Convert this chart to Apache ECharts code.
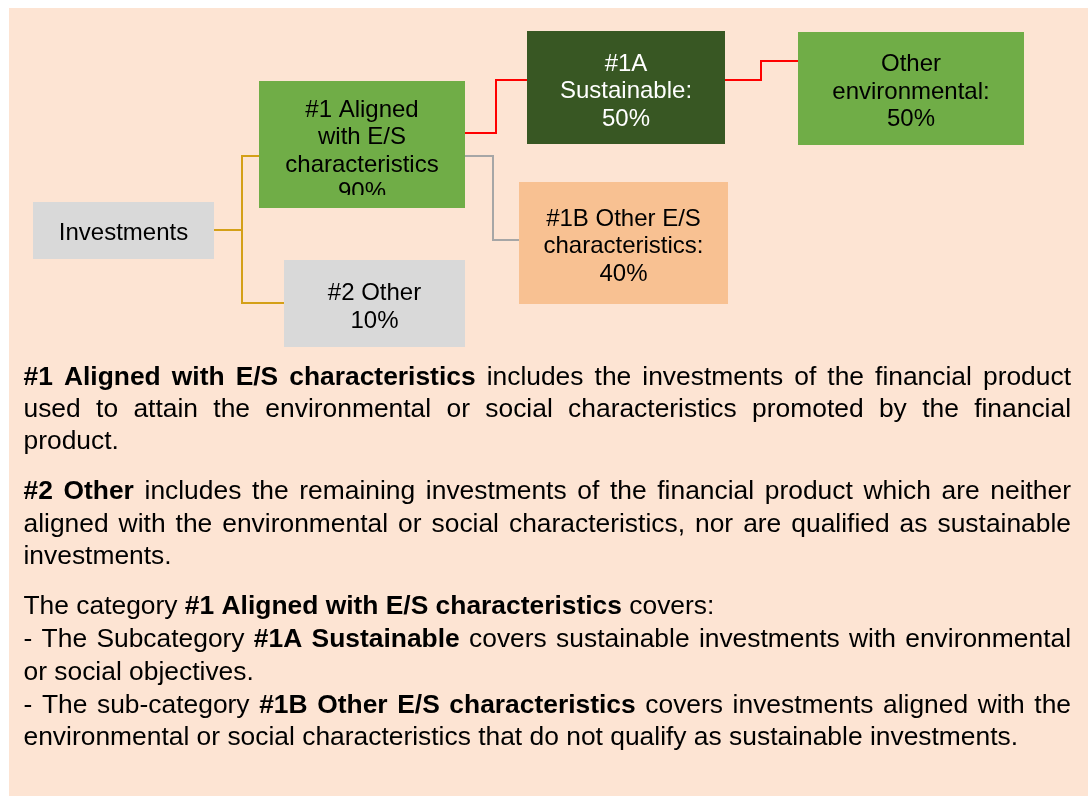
<!DOCTYPE html>
<html>
<head>
<meta charset="utf-8">
<script src="https://cdn.jsdelivr.net/npm/echarts@6/dist/echarts.min.js"></script>
<style>
  html, body { margin: 0; padding: 0; background: #fff; }
  #chart { width: 1091px; height: 798px; }
</style>
</head>
<body>
<div id="chart"></div>
<script>
// --- diagram data ---
const nodeNames = ['Investments', '#1 Aligned\nwith E/S\ncharacteristics', '#2 Other', '#1A\nSustainable:', '#1B Other E/S\ncharacteristics:', 'Other\nenvironmental:'];
const nodeShares = [null, 90, 10, 50, 40, 50];
const linkFrom = [0, 0, 1, 1, 3];
const linkTo = [1, 2, 3, 4, 5];

// --- explanatory text, one entry per printed line: [text, bold] ---
const textLines = [
  [['#1 Aligned with E/S characteristics', true], [' includes the investments of the financial product', false]],
  [['used to attain the environmental or social characteristics promoted by the financial', false]],
  [['product.', false]],
  [['#2 Other', true], [' includes the remaining investments of the financial product which are neither', false]],
  [['aligned with the environmental or social characteristics, nor are qualified as sustainable', false]],
  [['investments.', false]],
  [['The category ', false], ['#1 Aligned with E/S characteristics', true], [' covers:', false]],
  [['- The Subcategory ', false], ['#1A Sustainable', true], [' covers sustainable investments with environmental', false]],
  [['or social objectives.', false]],
  [['- The sub-category ', false], ['#1B Other E/S characteristics', true], [' covers investments aligned with the', false]],
  [['environmental or social characteristics that do not qualify as sustainable investments.', false]]
];
const lineJustified = [true, true, false, true, true, false, false, true, false, true, false];

// --- layout (diagram space = page pixels) ---
const boxRect = [[33, 202, 214, 259], [259, 81, 465, 208], [284, 260, 465, 347], [527, 31, 725, 144], [519, 182, 728, 304], [798, 32, 1024, 145]];
const boxColor = ['#d9d9d9', '#70ad47', '#d9d9d9', '#385723', '#f8c192', '#70ad47'];
const boxTextColor = ['#000', '#000', '#000', '#fff', '#000', '#000'];
const boxTextDy = [2.5, 7, 4, 4, 3.5, 3.5];
const boxClipBottom = [null, 195, null, null, null, null];
// link anchors: y on parent side, y on child side, x of the elbow
const linkY0 = [230, 230, 133, 156, 80];
const linkY1 = [156, 303, 80, 240, 61];
const linkElbow = [242, 242, 496, 493, 761];
const linkColor = ['#d4a017', '#d4a017', '#ff0000', '#a6a6a6', '#ff0000'];

const FONT = '"Liberation Sans", Arial, sans-serif';
const PARA_SIZE = 26.4;
const PARA_LEFT = 23.5, PARA_RIGHT = 1071;
const lineY = [378, 410, 442, 491.5, 524.5, 556.5, 606.5, 639.5, 672.5, 705.5, 738];

const chart = echarts.init(document.getElementById('chart'));

// words of the text block, placed one by one so the lines can be justified
const ctx = document.createElement('canvas').getContext('2d');
function fontOf(bold) { return (bold ? 'bold ' : '') + PARA_SIZE + 'px ' + FONT; }
function measure(t, bold) { ctx.font = fontOf(bold); return ctx.measureText(t).width; }

const textGraphics = [];
textLines.forEach(function (parts, li) {
  const words = [];
  parts.forEach(function (p) {
    p[0].split(' ').forEach(function (w) { if (w) words.push({ t: w, b: p[1] }); });
  });
  let total = 0;
  words.forEach(function (w) { w.w = measure(w.t, w.b); total += w.w; });
  const gap = lineJustified[li] && words.length > 1
    ? (PARA_RIGHT - PARA_LEFT - total) / (words.length - 1)
    : measure(' ', false);
  let x = PARA_LEFT;
  words.forEach(function (w) {
    textGraphics.push({
      type: 'text', x: x, y: lineY[li], silent: true, z: 10,
      style: { text: w.t, font: fontOf(w.b), fill: '#000', textVerticalAlign: 'middle', verticalAlign: 'middle' }
    });
    x += w.w + gap;
  });
});

const option = {
  animation: false,
  backgroundColor: '#fff',
  grid: { left: 0, right: 0, top: 0, bottom: 0 },
  xAxis: { type: 'value', min: 0, max: 1091, show: false },
  yAxis: { type: 'value', min: 0, max: 798, inverse: true, show: false },
  graphic: [
    { type: 'rect', z: -10, silent: true, shape: { x: 9, y: 8, width: 1079, height: 788 }, style: { fill: '#fde4d3' } }
  ].concat(textGraphics),
  series: [
    {
      type: 'lines',
      coordinateSystem: 'cartesian2d',
      polyline: true,
      silent: true,
      z: 2,
      lineStyle: { width: 2, opacity: 1 },
      data: linkFrom.map(function (f, i) {
        const x0 = boxRect[f][2], x1 = boxRect[linkTo[i]][0];
        return {
          coords: [[x0, linkY0[i]], [linkElbow[i], linkY0[i]], [linkElbow[i], linkY1[i]], [x1, linkY1[i]]],
          lineStyle: { color: linkColor[i] }
        };
      })
    },
    {
      type: 'custom',
      coordinateSystem: 'cartesian2d',
      silent: true,
      z: 3,
      data: boxRect,
      renderItem: function (params, api) {
        const i = params.dataIndex;
        const p0 = api.coord([api.value(0), api.value(1)]);
        const p1 = api.coord([api.value(2), api.value(3)]);
        const w = p1[0] - p0[0], h = p1[1] - p0[1];
        const label = nodeNames[i] + (nodeShares[i] != null ? '\n' + nodeShares[i] + '%' : '');
        const txt = {
          type: 'text',
          style: {
            text: label, x: p0[0] + w / 2, y: p0[1] + h / 2 + boxTextDy[i],
            fill: boxTextColor[i], font: '24px ' + FONT,
            align: 'center', verticalAlign: 'middle',
            textAlign: 'center', textVerticalAlign: 'middle', lineHeight: 27.5
          }
        };
        if (boxClipBottom[i] != null) {
          const cb = api.coord([0, boxClipBottom[i]])[1];
          txt.clipPath = { type: 'rect', shape: { x: p0[0], y: p0[1], width: w, height: cb - p0[1] } };
        }
        return {
          type: 'group',
          children: [
            { type: 'rect', shape: { x: p0[0], y: p0[1], width: w, height: h }, style: { fill: boxColor[i] } },
            txt
          ]
        };
      }
    }
  ]
};

chart.setOption(option);
</script>
</body>
</html>
